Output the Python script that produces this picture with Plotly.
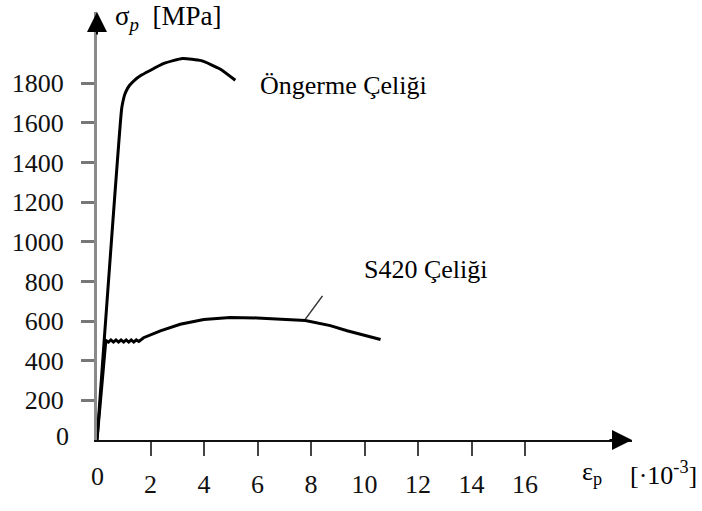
import plotly.graph_objects as go

# Prestressing steel curve (strain in 1e-3, stress in MPa)
ong_x = [0, 0.92, 0.97, 1.03, 1.11, 1.22, 1.4, 1.65, 1.95, 2.5, 3.2, 3.9, 4.6, 5.17]
ong_y = [0, 1670, 1708, 1740, 1766, 1790, 1815, 1840, 1862, 1900, 1925, 1914, 1872, 1815]

# S420 steel curve (with yield plateau serrations)
s420_x = [0, 0.33, 0.425, 0.52, 0.615, 0.71, 0.805, 0.90, 0.995, 1.09, 1.185, 1.28,
          1.375, 1.47, 1.565, 1.74, 2.37, 3.11, 3.99, 4.98, 5.98, 6.8, 7.79, 8.72, 9.35, 10.6]
s420_y = [0, 502, 494, 505, 494, 505, 494, 505, 494, 505, 494, 505,
          494, 505, 497, 516, 551, 584, 608, 618, 616, 610, 603, 577, 551, 507]

# Leader line for the S420 label
lead_x = [7.79, 8.43]
lead_y = [610, 727]

x_ticks = [2, 4, 6, 8, 10, 12, 14, 16]
y_ticks = [200, 400, 600, 800, 1000, 1200, 1400, 1600, 1800]

label_ong = "Öngerme Çeliği"
label_s420 = "S420 Çeliği"

FONT = "'Liberation Serif', 'Times New Roman', Times, serif"
FS = 26

fig = go.Figure()
fig.add_trace(go.Scatter(x=ong_x, y=ong_y, mode="lines",
                         line=dict(color="black", width=3, shape="spline", smoothing=0.5),
                         cliponaxis=False, hoverinfo="skip", showlegend=False))
fig.add_trace(go.Scatter(x=s420_x, y=s420_y, mode="lines",
                         line=dict(color="black", width=3), cliponaxis=False,
                         hoverinfo="skip", showlegend=False))
fig.add_trace(go.Scatter(x=lead_x, y=lead_y, mode="lines",
                         line=dict(color="#333333", width=1.5), cliponaxis=False,
                         hoverinfo="skip", showlegend=False))

anns = []
# text labels
anns.append(dict(x=6.03, y=1790, text=label_ong, xanchor="left", yanchor="middle",
                 showarrow=False, font=dict(family=FONT, size=FS, color="black")))
anns.append(dict(x=9.92, y=861, text=label_s420, xanchor="left", yanchor="middle",
                 showarrow=False, font=dict(family=FONT, size=FS, color="black")))
# zero labels
anns.append(dict(x=0, y=0, text="0", xanchor="right", yanchor="middle", xshift=-26, yshift=4,
                 showarrow=False, font=dict(family=FONT, size=FS, color="#111")))
anns.append(dict(x=0, y=0, text="0", xanchor="center", yanchor="top", yshift=-20,
                 showarrow=False, font=dict(family=FONT, size=FS, color="#111")))
# axis titles
anns.append(dict(x=0.61, y=2128, text="σ<sub><i>p</i></sub>  [MPa]", xanchor="left", yanchor="middle",
                 showarrow=False, font=dict(family=FONT, size=27, color="black")))
anns.append(dict(x=18.05, y=0, text="ε<sub>p</sub>", xanchor="left", yanchor="middle", yshift=-33,
                 showarrow=False, font=dict(family=FONT, size=FS, color="black")))
anns.append(dict(x=19.85, y=0, text="[·10<sup>-3</sup>]", xanchor="left", yanchor="middle", yshift=-33,
                 showarrow=False, font=dict(family=FONT, size=FS, color="black")))
# axis arrowheads
anns.append(dict(x=20, y=0, ax=-24, ay=0, text="", showarrow=True, arrowhead=2,
                 arrowsize=2, arrowwidth=2, arrowcolor="black"))
anns.append(dict(x=0, y=2159, ax=0, ay=24, text="", showarrow=True, arrowhead=2,
                 arrowsize=2, arrowwidth=2, arrowcolor="black"))

fig.update_layout(
    width=702, height=511,
    margin=dict(l=97, r=70, t=12, b=55),
    paper_bgcolor="white", plot_bgcolor="white",
    font=dict(family=FONT, size=FS, color="#111"),
    annotations=anns,
    xaxis=dict(range=[0, 20], tickvals=x_ticks, ticktext=[str(v) for v in x_ticks],
               showgrid=False, zeroline=False, showline=True, linecolor="#111", linewidth=2,
               ticks="outside", ticklen=14, tickwidth=2, tickcolor="#444",
               ticklabelstandoff=6,
               tickfont=dict(family=FONT, size=FS, color="#111"), fixedrange=True),
    yaxis=dict(range=[0, 2159.5], tickvals=y_ticks, ticktext=[str(v) for v in y_ticks],
               showgrid=False, zeroline=False, showline=True, linecolor="#8a8a8a", linewidth=3,
               ticks="outside", ticklen=13, tickwidth=3, tickcolor="#777",
               ticklabelstandoff=12,
               tickfont=dict(family=FONT, size=FS, color="#111"), fixedrange=True),
)

fig.write_html("out.html")
